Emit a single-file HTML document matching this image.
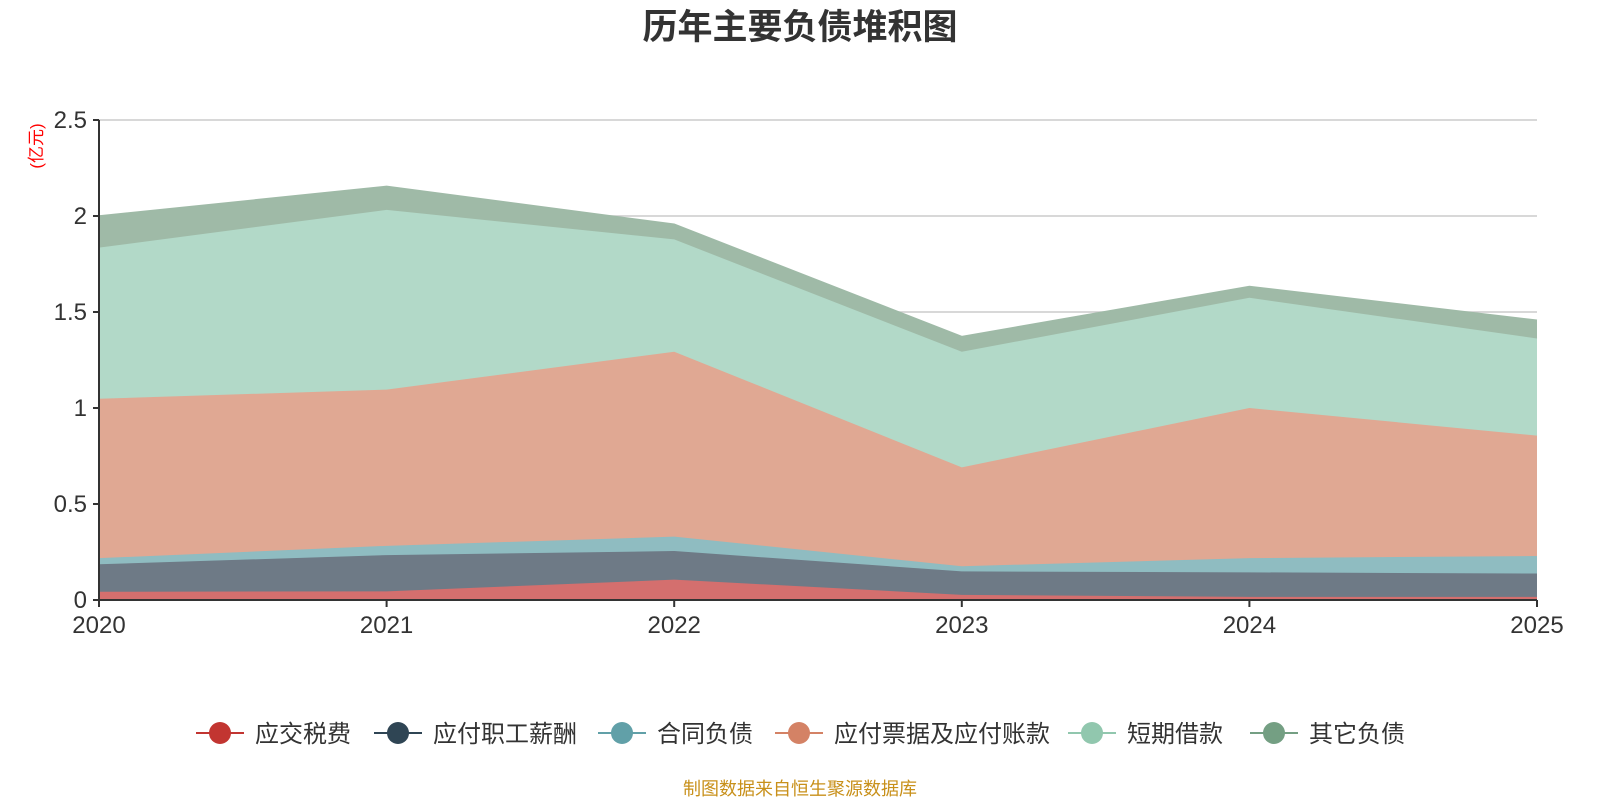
<!DOCTYPE html>
<html><head><meta charset="utf-8"><style>
body{margin:0;width:1600px;height:800px;background:#fff;overflow:hidden;font-family:"Liberation Sans","Noto Sans CJK SC",sans-serif}
</style></head><body>
<svg id="c" width="1600" height="800" xmlns="http://www.w3.org/2000/svg" font-family="Liberation Sans, Noto Sans CJK SC, sans-serif"></svg>
<script>
const years=['2020','2021','2022','2023','2024','2025'];
const tax=[0.043,0.045,0.106,0.027,0.016,0.016];
const staff=[0.143,0.189,0.149,0.122,0.128,0.122];
const contract=[0.032,0.048,0.075,0.027,0.074,0.091];
const payables=[0.830,0.814,0.963,0.515,0.782,0.627];
const shortLoan=[0.787,0.936,0.585,0.602,0.574,0.506];
const other=[0.165,0.122,0.079,0.079,0.059,0.095];
const yTicks=[0,0.5,1,1.5,2,2.5];
const yTickLabels=['0','0.5','1','1.5','2','2.5'];
const seriesNames=['应交税费','应付职工薪酬','合同负债','应付票据及应付账款','短期借款','其它负债'];
const seriesData=[tax,staff,contract,payables,shortLoan,other];
const fillColors=['#d46f6e','#6e7a86','#8fbcc1','#e0a893','#b2d9c8','#9fbaa7'];
const lineColors=['#c23531','#2f4554','#61a0a8','#d48265','#91c7ae','#749f83'];
const NS='http://www.w3.org/2000/svg';
const svg=document.getElementById('c');
const X0=99,X1=1537,Y0=600,Y1=120;
const xs=i=>X0+(X1-X0)*i/(years.length-1);
const ys=v=>Y0-(Y0-Y1)*v/2.5;
function el(t,a,p){const e=document.createElementNS(NS,t);for(const k in a)e.setAttribute(k,a[k]);(p||svg).appendChild(e);return e;}
let t=el('text',{x:800,y:39,'text-anchor':'middle','font-size':35,'font-weight':'bold',fill:'#333'});t.textContent='历年主要负债堆积图';


yTicks.forEach((v,i)=>{
 const g=el('line',{x1:X0,x2:X1,y1:ys(v),y2:ys(v),stroke:'#ccc','stroke-width':1.5});
 
 
 el('line',{x1:X0-6,x2:X0,y1:ys(v),y2:ys(v),stroke:'#333','stroke-width':2});
 const l=el('text',{x:X0-12,y:ys(v)+8,'text-anchor':'end','font-size':24,fill:'#333'});l.textContent=yTickLabels[i];
 
 
});
let u=el('text',{transform:`translate(42,146) rotate(-90)`,'text-anchor':'middle','font-size':17,fill:'red'});u.textContent='(亿元)';


let base=years.map(()=>0);
seriesData.forEach((s,k)=>{
 const top=s.map((v,i)=>base[i]+v);
 let d='M'+top.map((v,i)=>xs(i)+','+ys(v)).join('L');
 for(let i=years.length-1;i>=0;i--)d+='L'+xs(i)+','+ys(base[i]);
 const a=el('path',{d:d+'Z',fill:fillColors[k]});
 
 
 el('polyline',{points:top.map((v,i)=>xs(i)+','+ys(v)).join(' '),fill:'none',stroke:fillColors[k],'stroke-width':1.5});
 base=top;
});
el('line',{x1:X0,x2:X0,y1:Y1,y2:Y0,stroke:'#333','stroke-width':2});
el('line',{x1:X0,x2:X1,y1:Y0,y2:Y0,stroke:'#333','stroke-width':2});
years.forEach((y,i)=>{
 el('line',{x1:xs(i),x2:xs(i),y1:Y0,y2:Y0+7,stroke:'#333','stroke-width':2});
 const l=el('text',{x:xs(i),y:Y0+33,'text-anchor':'middle','font-size':24,fill:'#333'});l.textContent=y;
 
 
});
const lx=[220,398,622,799,1092,1274];
seriesNames.forEach((n,k)=>{
 const g=el('g',{});
 
 
 el('line',{x1:lx[k]-24,x2:lx[k]+24,y1:733,y2:733,stroke:lineColors[k],'stroke-width':2},g);
 el('circle',{cx:lx[k],cy:733,r:11,fill:lineColors[k]},g);
 const tt=el('text',{x:lx[k]+35,y:742,'font-size':24,fill:'#333'},g);tt.textContent=n;
});
let f=el('text',{x:800,y:795,'text-anchor':'middle','font-size':18,fill:'#c8901a'});f.textContent='制图数据来自恒生聚源数据库';


</script>
</body></html>
